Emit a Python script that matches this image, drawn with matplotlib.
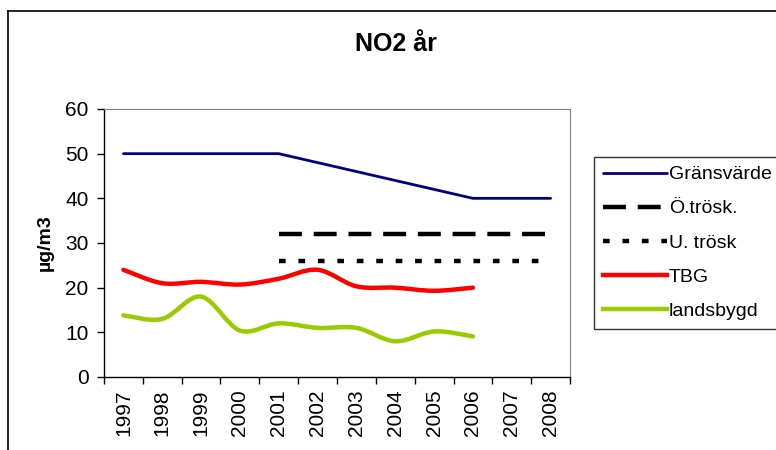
import numpy as np
import matplotlib.pyplot as plt
from matplotlib.path import Path
from matplotlib.patches import PathPatch
from matplotlib.lines import Line2D

plt.rcParams['font.family'] = ['Liberation Sans', 'DejaVu Sans']
plt.rcParams['lines.scale_dashes'] = False

# ===== Data =====
years = ['1997', '1998', '1999', '2000', '2001', '2002',
         '2003', '2004', '2005', '2006', '2007', '2008']
gransvarde = [50, 50, 50, 50, 50, 48, 46, 44, 42, 40, 40, 40]
o_trosk = [None, None, None, None, 32, 32, 32, 32, 32, 32, 32, 32]
u_trosk = [None, None, None, None, 26, 26, 26, 26, 26, 26, 26, 26]
tbg = [24, 21, 21.3, 20.7, 22, 24, 20.3, 20, 19.3, 20]
landsbygd = [13.8, 13, 18, 10.4, 12, 11, 11, 8, 10.2, 9.1]


def smooth_path(xs, ys):
    # Excel style smoothed line: cubic Bezier segments through the points
    pts = np.column_stack([xs, ys]).astype(float)
    n = len(pts)
    verts = [pts[0]]
    codes = [Path.MOVETO]
    for i in range(n - 1):
        p0 = pts[max(i - 1, 0)]
        p1 = pts[i]
        p2 = pts[i + 1]
        p3 = pts[min(i + 2, n - 1)]
        verts += [p1 + (p2 - p0) / 6, p2 - (p3 - p1) / 6, p2]
        codes += [Path.CURVE4] * 3
    return Path(verts, codes)


def valid(series):
    xs = [i for i, v in enumerate(series) if v is not None]
    return xs, [series[i] for i in xs]


fig = plt.figure(figsize=(7.76, 4.5), dpi=100)
ax = fig.add_axes([104 / 776, 1 - 377 / 450, 466 / 776, 268 / 450])

# outer chart border (top and left visible)
fig.add_artist(Line2D([8 / 776, 1], [1 - 11 / 450, 1 - 11 / 450], color='black', lw=1.2))
fig.add_artist(Line2D([8 / 776, 8 / 776], [1 - 11 / 450, 0], color='black', lw=1.2))

x = np.arange(len(years))

ax.plot(x, gransvarde, color='#000080', lw=2, solid_capstyle='round', label='Gränsvärde')
xs, ys = valid(o_trosk)
ax.plot(xs, ys, color='black', lw=3.2, dashes=(16.5, 8.5), dash_capstyle='butt', label='Ö.trösk.')
xs, ys = valid(u_trosk)
ax.plot(xs, ys, color='black', lw=3.2, dashes=(4.8, 9.2), dash_capstyle='butt', label='U. trösk')

ax.add_patch(PathPatch(smooth_path(np.arange(len(tbg)), tbg), fill=False,
                       edgecolor='#FF0000', lw=3.2, capstyle='round'))
ax.add_patch(PathPatch(smooth_path(np.arange(len(landsbygd)), landsbygd), fill=False,
                       edgecolor='#99CC00', lw=3.2, capstyle='round'))
ax.plot([], [], color='#FF0000', lw=3.2, label='TBG')
ax.plot([], [], color='#99CC00', lw=3.2, label='landsbygd')

ax.set_xlim(-0.5, len(years) - 0.5)
ax.set_ylim(0, 60)
ax.set_yticks(range(0, 61, 10))
ax.set_xticks(x)
ax.set_xticklabels(years, rotation=90)
ax.set_xticks(np.arange(-0.5, len(years)), minor=True)
ax.tick_params(axis='x', which='major', length=0, pad=9, labelsize=15)
ax.tick_params(axis='x', which='minor', length=5, width=1, direction='out')
ax.tick_params(axis='y', length=5, width=1, pad=6, labelsize=15)

for s in ['top', 'right']:
    ax.spines[s].set_color('#808080')
ax.spines['left'].set_linewidth(1)
ax.spines['bottom'].set_linewidth(1)

ax.set_ylabel('µg/m3', fontsize=14, fontweight='bold', labelpad=8)
fig.text(396 / 776, 1 - 44 / 450, 'NO2 år', ha='center', va='center',
         fontsize=18, fontweight='bold')

leg = fig.legend(loc='upper left', bbox_to_anchor=(594 / 776, 1 - 157 / 450),
                 fontsize=14, frameon=True, fancybox=False, handlelength=3.3,
                 handletextpad=0.1, labelspacing=0.85, borderpad=0.45,
                 borderaxespad=0)
leg.get_frame().set_edgecolor('black')
leg.get_frame().set_linewidth(1)

fig.savefig('out.png', dpi=100)
